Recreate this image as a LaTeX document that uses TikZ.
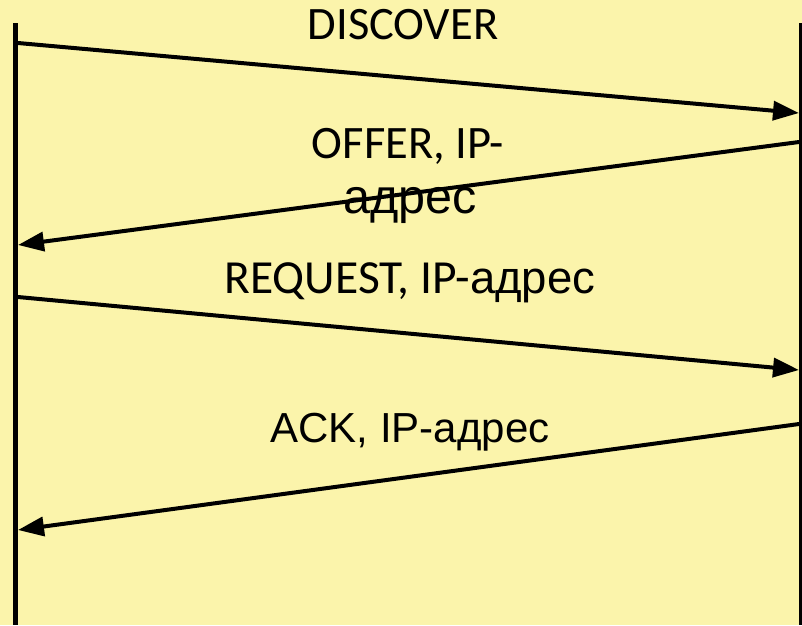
\documentclass[tikz,border=0pt]{standalone}
\usepackage{fontspec}
\setmainfont{Carlito}
\newfontfamily\arialfont{Liberation Sans}
\usetikzlibrary{arrows.meta}
\definecolor{slideyellow}{RGB}{251,244,171}
\tikzstyle{life}=[line width=5pt]
\tikzstyle{msg}=[line width=4pt,-{Triangle[length=26pt,width=19pt]}]
\tikzstyle{lbl}=[inner sep=0pt,anchor=base]

\begin{document}
\begin{tikzpicture}[x=1pt,y=-1pt]
\fill[slideyellow] (0,0) rectangle (802,625);
\useasboundingbox (0,0) rectangle (802,625);
% lifelines
\coordinate (clienttop) at (15.5,23);
\coordinate (clientbot) at (15.5,625);
\coordinate (servertop) at (801,23);
\coordinate (serverbot) at (801,625);
\draw[life] (clienttop)--(clientbot);
\draw[life] (servertop)--(serverbot);
% message ends
\coordinate (disc1) at (18,43);
\coordinate (disc2) at (799,113);
\coordinate (offer1) at (799,142);
\coordinate (offer2) at (18,245);
\coordinate (req1) at (18,297);
\coordinate (req2) at (799,370);
\coordinate (ack1) at (799,424);
\coordinate (ack2) at (18,530);
\draw[msg] (disc1)--(disc2);
\draw[msg] (offer1)--(offer2);
\draw[msg] (req1)--(req2);
\draw[msg] (ack1)--(ack2);
% labels
\node[lbl,font=\fontsize{46.5}{54}\selectfont] (disclbl) at (403,39) {DISCOVER};
\node[lbl,font=\fontsize{46.5}{56}\selectfont] (offerlbl) at (408,158) {OFFER, IP-};
\node[lbl,font=\arialfont\fontsize{48.5}{58}\selectfont] (offeraddr) at (410,213) {адрес};
\node[lbl,font=\fontsize{47.5}{56}\selectfont] (reqlbl) at (410,293) {REQUEST, IP-{\arialfont\fontsize{45.5}{54}\selectfont адрес}};
\node[lbl,font=\arialfont\fontsize{42}{50}\selectfont] (acklbl) at (410,442) {ACK, IP-адрес};
\end{tikzpicture}
\end{document}
